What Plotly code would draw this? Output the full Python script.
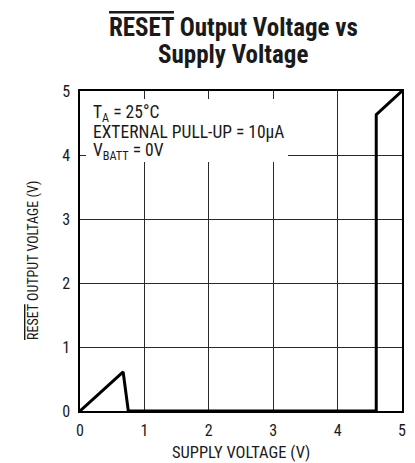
import plotly.graph_objects as go

supply_v = [0, 0.67, 0.75, 4.6, 4.6, 5.0]
reset_v = [0, 0.61, 0, 0, 4.63, 5.0]
x_ticks = [0, 1, 2, 3, 4, 5]
y_ticks = [0, 1, 2, 3, 4, 5]
title_lines = ['<span style="text-decoration:overline">RESET</span> Output Voltage vs', "Supply Voltage"]
x_title = "SUPPLY VOLTAGE (V)"
y_title = '<span style="text-decoration:overline">RESET</span> OUTPUT VOLTAGE (V)'
cond_lines = ["T<sub>A</sub> = 25°C", "EXTERNAL PULL-UP = 10µA", "V<sub>BATT</sub> = 0V"]

FONT = "Roboto Condensed, Liberation Sans, sans-serif"
INK = "#1a1a1a"

# plot area in pixels: x 80..402, y 91..411
W, H = 415, 463
L, R, T, B = 80, 13, 91, 52
PW, PH = W - L - R, H - T - B

def px(x):
    return (x - L) / PW

def py(y):
    return (H - B - y) / PH

fig = go.Figure()
fig.add_trace(go.Scatter(x=supply_v, y=reset_v, mode="lines",
                         line=dict(color="black", width=3), cliponaxis=False,
                         hoverinfo="skip", showlegend=False))

axis_common = dict(range=[0, 5], showgrid=True, gridcolor="#2a2a2a", gridwidth=1,
                   showline=True, linecolor="black", linewidth=1.5, mirror=True, zeroline=False,
                   ticks="", tickfont=dict(family=FONT, size=16, color=INK), automargin=False,
                   fixedrange=True)

fig.update_layout(
    width=W, height=H,
    margin=dict(l=L, r=R, t=T, b=B, autoexpand=False),
    paper_bgcolor="white", plot_bgcolor="white",
    font=dict(family=FONT, size=14, color=INK),
    xaxis=dict(tickvals=x_ticks, ticklabelstandoff=4, **axis_common),
    yaxis=dict(tickvals=y_ticks, ticklabelstandoff=5, **axis_common),
)

# white panel behind the conditions text (hides grid lines there)
fig.add_shape(type="rect", xref="paper", yref="paper",
              x0=px(86), x1=px(288), y0=py(162), y1=py(99),
              fillcolor="white", line=dict(width=0), layer="above")

# title
for txt, yc in zip(title_lines, [27, 55]):
    fig.add_annotation(xref="paper", yref="paper", x=px(233), y=py(yc), xanchor="center", yanchor="middle",
                       showarrow=False, text="<b>" + txt + "</b>",
                       font=dict(family=FONT, size=25, color=INK))

# axis titles
fig.add_annotation(xref="paper", yref="paper", x=px(241), y=py(452), xanchor="center", yanchor="middle",
                   showarrow=False, text=x_title, font=dict(family=FONT, size=16.5, color=INK))
fig.add_annotation(xref="paper", yref="paper", x=px(33), y=py(260), xanchor="center", yanchor="middle",
                   showarrow=False, textangle=-90, text=y_title, font=dict(family=FONT, size=14, color=INK))

# conditions
for txt, yc in zip(cond_lines, [113, 132, 151]):
    fig.add_annotation(xref="paper", yref="paper", x=px(91), y=py(yc), xanchor="left", yanchor="middle",
                       showarrow=False, align="left", text=txt,
                       font=dict(family=FONT, size=17.5, color=INK))

fig.write_html("out.html", config={"displayModeBar": False},
               post_script="document.body.style.margin='0';")
